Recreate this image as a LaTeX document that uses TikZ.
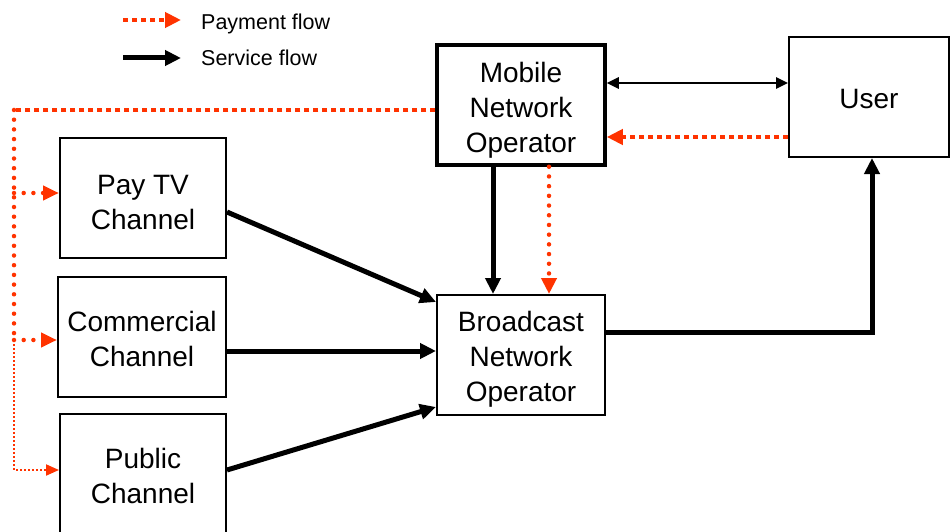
\documentclass[tikz,border=0pt]{standalone}
\usepackage{fontspec}
\setmainfont{Liberation Sans}
\usetikzlibrary{arrows.meta}
\definecolor{payred}{RGB}{255,51,0}
% a taller first line pushes a text block a little lower in its box
\newcommand{\firstline}[1]{\rule{0pt}{#1}}
\begin{document}
\begin{tikzpicture}[x=1pt,y=-1pt,
  box/.style={draw, line width=2pt, minimum width=166pt, minimum height=120pt,
    align=center, inner sep=0pt, font=\fontsize{28}{35}\selectfont},
  boldbox/.style={box, line width=3.5pt},
  bigtip/.style={-{Triangle[length=16pt,width=15pt]}},
  service/.style={line width=5pt, bigtip},
  twoway/.style={line width=2.5pt,
    {Triangle[length=12pt,width=11pt]}-{Triangle[length=12pt,width=11pt]}},
  paydash/.style={color=payred, line width=4.5pt, dash pattern=on 5pt off 4pt},
  paydots/.style={color=payred, line width=4.5pt, line cap=round,
    dash pattern=on 0pt off 9.7pt},
  paythin/.style={color=payred, line width=2pt, dash pattern=on 2pt off 2pt},
  legendtext/.style={anchor=base west, inner sep=0pt, font=\fontsize{21.5}{24}\selectfont}
]
\useasboundingbox (0,0) rectangle (950,532);
\clip (0,0) rectangle (950,532);

% legend
\coordinate (lp1) at (123,20);
\coordinate (lp2) at (181,20);
\coordinate (ls1) at (123,58);
\coordinate (ls2) at (181,58);
\draw[paydash, bigtip] (lp1) -- (lp2);
\draw[service] (ls1) -- (ls2);
\node[legendtext] (lpt) at (201,30) {Payment flow};
\node[legendtext] (lst) at (201,66) {Service flow};

% boxes
\node[boldbox, minimum width=168pt] (mno) at (521,105) {\firstline{30.5pt}Mobile\\Network\\Operator};
\node[box, minimum width=160pt] (user) at (869,97) {\firstline{24pt}User};
\node[box] (pay) at (143,198) {\firstline{28.5pt}Pay TV\\Channel};
\node[box, minimum width=168pt] (com) at (142,337) {\firstline{24.5pt}Commercial\\Channel};
\node[box] (pub) at (143,474) {\firstline{24.5pt}Public\\Channel};
\node[box, minimum width=168pt] (bno) at (521,355) {\firstline{28.5pt}Broadcast\\Network\\Operator};

% service flows
\draw[twoway] ([yshift=22pt]mno.east) -- ([yshift=14pt]user.west);
\draw[service] ([xshift=-28pt]mno.south) -- ([xshift=-28pt]bno.north);
\draw[service] ([yshift=-14pt]pay.east) -- ([yshift=53pt]bno.west);
\coordinate (comout) at ([yshift=-14pt]com.east);
\draw[service] (comout) -- (comout -| bno.west);
\draw[service] ([yshift=4pt]pub.east) -- ([yshift=-52pt]bno.west);
\draw[service, line join=miter] ([yshift=23pt]bno.east) -| ([xshift=3pt]user.south);

% payment flows
\coordinate (uout) at ([yshift=-40pt]user.west);
\draw[paydash, bigtip] (uout) -- (uout -| mno.east);
\draw[paydots, bigtip] ([xshift=28pt]mno.south) -- ([xshift=28pt]bno.north);

\coordinate (c1) at (14,110);
\coordinate (c2) at (14,193);
\coordinate (c3) at (14,340);
\coordinate (c4) at (14,470);
\draw[paydash] ([yshift=-5pt]mno.west) -- (c1);
\draw[paydots] (c1) -- (c3);
\draw[paydots, -{Triangle[length=16pt,width=14pt]}] (c2) -- (c2 -| pay.west);
\draw[paydots, -{Triangle[length=16pt,width=14pt]}] (c3) -- (c3 -| com.west);
\draw[paythin, -{Triangle[length=13pt,width=11pt]}] (c3) -- (c4) -- (c4 -| pub.west);
\end{tikzpicture}
\end{document}
